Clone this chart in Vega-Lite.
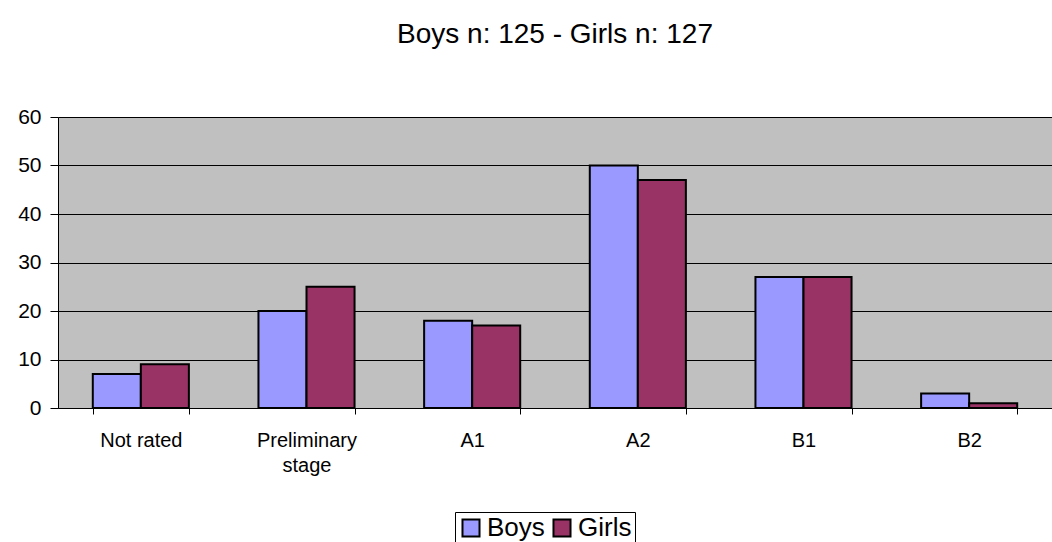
{
  "$schema": "https://vega.github.io/schema/vega-lite/v6.json",
  "width": 994,
  "height": 291,
  "autosize": {"type": "none"},
  "padding": {"left": 58, "top": 117, "right": 0, "bottom": 134},
  "background": "white",
  "title": {
    "text": "Boys n: 125 - Girls n: 127",
    "font": "Liberation Sans",
    "fontSize": 28,
    "fontWeight": "normal",
    "color": "black",
    "anchor": "middle",
    "frame": "group",
    "baseline": "alphabetic",
    "offset": 35
  },
  "config": {"view": {"fill": "#C0C0C0", "stroke": null}},
  "data": {
    "values": [
      {"level": "Not rated", "sex": "Boys", "value": 7},
      {"level": "Not rated", "sex": "Girls", "value": 9},
      {"level": "Preliminary stage", "sex": "Boys", "value": 20},
      {"level": "Preliminary stage", "sex": "Girls", "value": 25},
      {"level": "A1", "sex": "Boys", "value": 18},
      {"level": "A1", "sex": "Girls", "value": 17},
      {"level": "A2", "sex": "Boys", "value": 50},
      {"level": "A2", "sex": "Girls", "value": 47},
      {"level": "B1", "sex": "Boys", "value": 27},
      {"level": "B1", "sex": "Girls", "value": 27},
      {"level": "B2", "sex": "Boys", "value": 3},
      {"level": "B2", "sex": "Girls", "value": 1}
    ]
  },
  "mark": {"type": "bar", "stroke": "black", "strokeWidth": 2},
  "encoding": {
    "x": {
      "field": "level",
      "type": "nominal",
      "sort": ["Not rated", "Preliminary stage", "A1", "A2", "B1", "B2"],
      "scale": {"paddingInner": 0.42, "paddingOuter": 0.21},
      "axis": {
        "title": null,
        "labelAngle": 0,
        "tickBand": "extent",
        "domainColor": "black",
        "domainWidth": 1,
        "tickColor": "black",
        "tickSize": 6,
        "labelFont": "Liberation Sans",
        "labelFontSize": 20,
        "labelColor": "black",
        "labelPadding": 16,
        "labelLineHeight": 25,
        "labelExpr": "datum.label == 'Preliminary stage' ? ['Preliminary', 'stage'] : datum.label"
      }
    },
    "xOffset": {"field": "sex", "type": "nominal", "sort": ["Boys", "Girls"]},
    "y": {
      "field": "value",
      "type": "quantitative",
      "scale": {"domain": [0, 60]},
      "axis": {
        "title": null,
        "values": [0, 10, 20, 30, 40, 50, 60],
        "grid": true,
        "gridColor": "black",
        "gridWidth": 1,
        "gridOpacity": 1,
        "domainColor": "black",
        "tickColor": "black",
        "tickSize": 8,
        "labelFont": "Liberation Sans",
        "labelFontSize": 21,
        "labelColor": "black",
        "labelPadding": 9
      }
    },
    "color": {
      "field": "sex",
      "type": "nominal",
      "scale": {"domain": ["Boys", "Girls"], "range": ["#9999FF", "#993366"]},
      "legend": {
        "title": null,
        "orient": "none",
        "legendX": 397,
        "legendY": 395,
        "direction": "horizontal",
        "strokeColor": "black",
        "padding": 3,
        "symbolType": "square",
        "symbolSize": 290,
        "symbolStrokeColor": "black",
        "symbolStrokeWidth": 2,
        "symbolOpacity": 1,
        "labelFont": "Liberation Sans",
        "labelFontSize": 26,
        "labelColor": "black",
        "labelOffset": 3,
        "columnPadding": 4
      }
    }
  }
}
